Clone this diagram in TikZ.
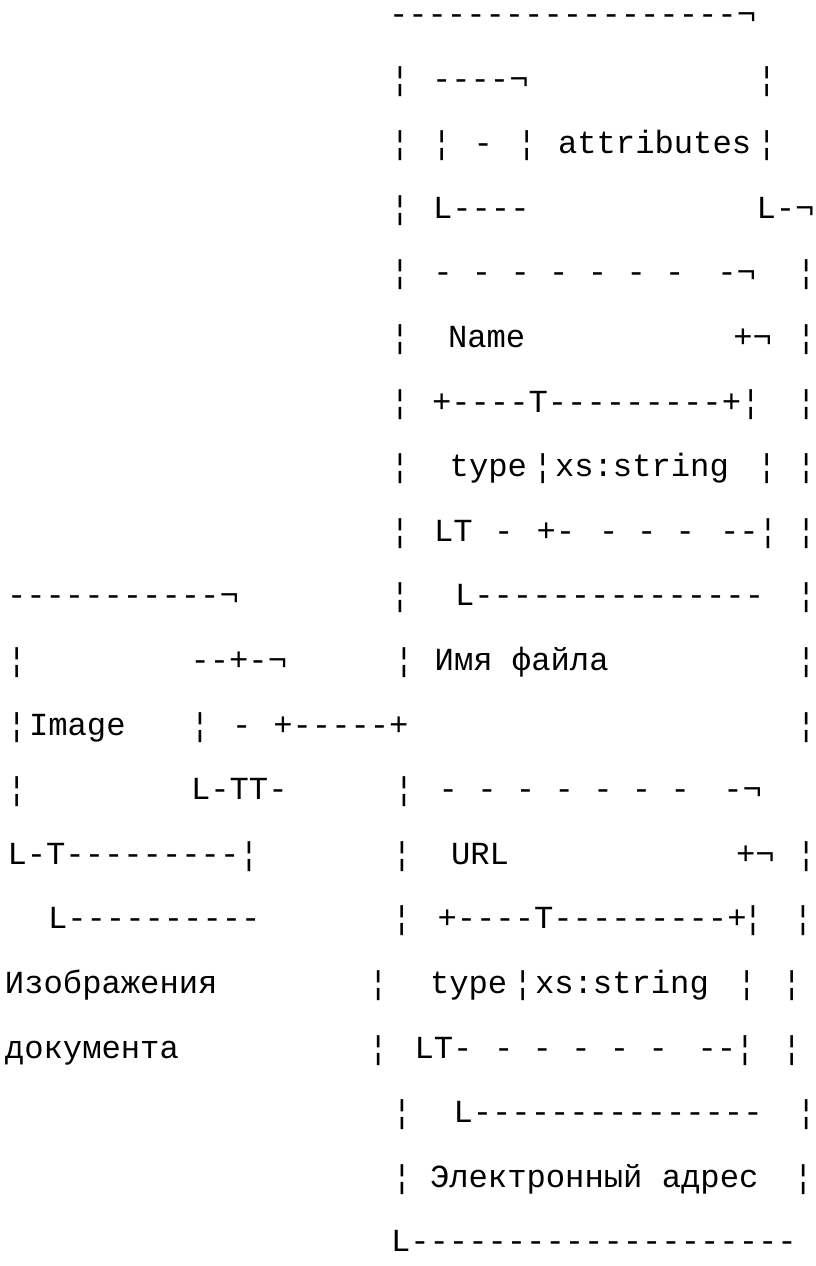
\documentclass[tikz,border=0pt]{standalone}
\usepackage{fontspec}
\setmonofont{Liberation Mono}
\usepackage{tikz}

\begin{document}
\begin{tikzpicture}[
        x=1pt, y=-1pt,
        tok/.style={anchor=base west, inner sep=0pt, outer sep=0pt,
                    text height=20pt, text depth=2pt,
                    font=\ttfamily\fontsize{32.2}{38}\selectfont}
    ]
    \useasboundingbox (0,0) rectangle (816,1266);

    % x of the first cell / row / text
    \foreach \x/\r/\t [count=\i] in {
        389/0/------------------¬,
        390.3/1/¦, 432/1/----¬, 757/1/¦,
        390.3/2/¦, 432/2/¦, 473.7/2/-, 517/2/¦, 558/2/attributes, 757/2/¦,
        390.3/3/¦, 433/3/L----, 756.5/3/L-¬,
        390.3/4/¦, 433.3/4/- - - - - - -, 717.3/4/-¬, 796.5/4/¦,
        390.3/5/¦, 448/5/Name, 733.3/5/+¬, 796.5/5/¦,
        390.3/6/¦, 432/6/+----T---------+, 741/6/¦, 796.5/6/¦,
        390.3/7/¦, 449.7/7/type, 533/7/¦, 555/7/xs:string, 757/7/¦, 796.5/7/¦,
        390.3/8/¦, 434/8/LT, 494/8/-, 536.5/8/+-, 599/8/-, 637/8/-, 675.5/8/-, 720/8/--, 758.3/8/¦, 796.5/8/¦,
        7/9/-----------¬, 390.3/9/¦, 455/9/L---------------, 796.5/9/¦,
        7/10/¦, 190.5/10/--+-¬, 394.3/10/¦, 434.7/10/Имя файла, 796.5/10/¦,
        7/11/¦, 29/11/Image, 190.3/11/¦, 232/11/-, 273.3/11/+-----+, 796.5/11/¦,
        7/12/¦, 191/12/L-TT-, 394.3/12/¦, 438.7/12/- - - - - - -, 723.3/12/-¬,
        7.5/13/L-T---------¦, 392.3/13/¦, 451/13/URL, 736/13/+¬, 796.5/13/¦,
        48/14/L----------, 392/14/¦, 437.5/14/+----T---------+, 743.3/14/¦, 793.3/14/¦,
        5/15/Изображения, 368.6/15/¦, 430/15/type, 513/15/¦, 535/15/xs:string, 737/15/¦, 782/15/¦,
        5/16/документа, 368.6/16/¦, 414.5/16/LT-, 494/16/- - - - -, 697.5/16/--, 735.3/16/¦, 782/16/¦,
        392.3/17/¦, 453.5/17/L---------------, 796.5/17/¦,
        392.3/18/¦, 430/18/Электронный адрес, 793.6/18/¦,
        391/19/L--------------------}
        \node[tok] (t\i) at (\x, {24.5+64.6*\r}) {\t};
\end{tikzpicture}
\end{document}
